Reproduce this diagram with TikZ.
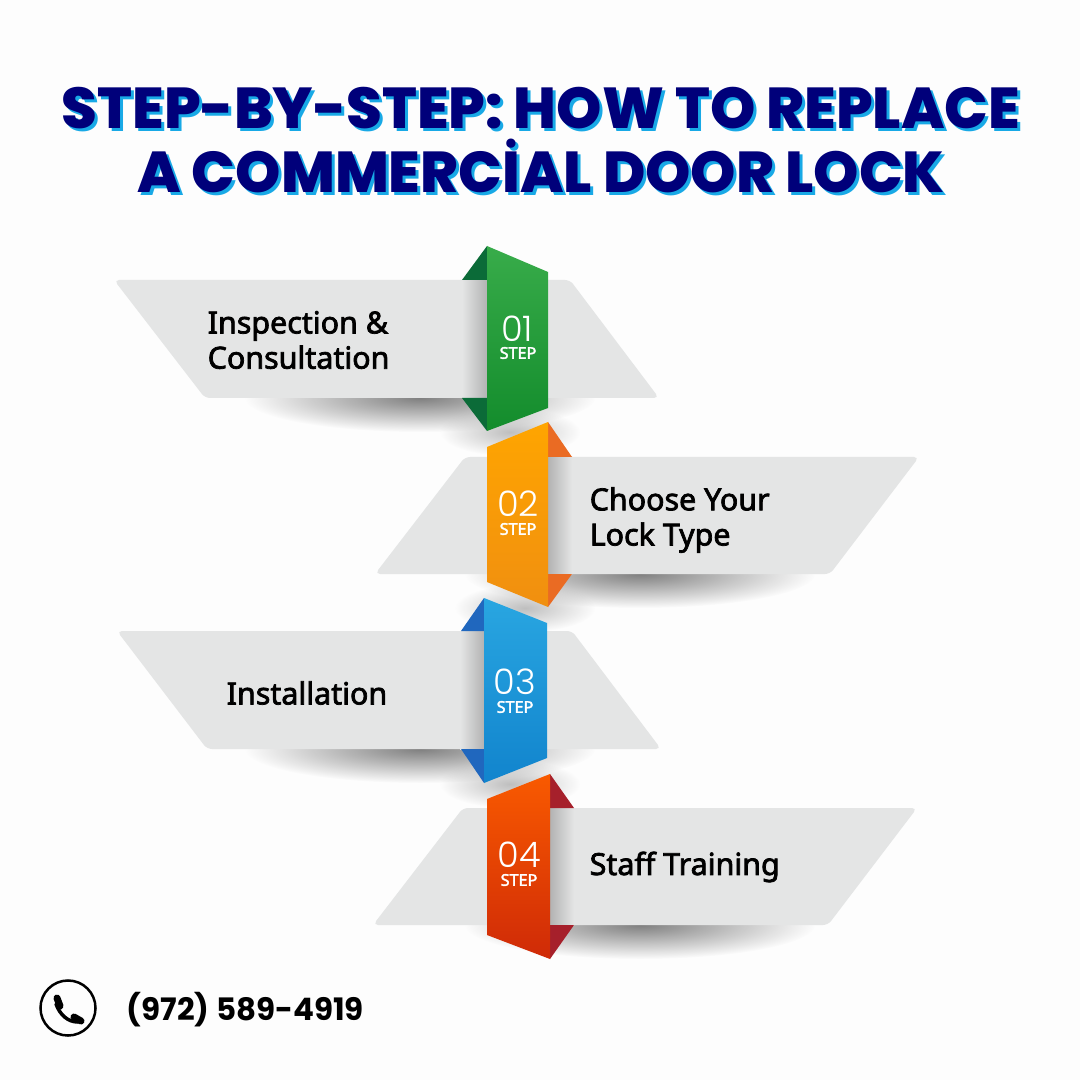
\documentclass[tikz,border=0pt]{standalone}
\usepackage{xcolor}
\usepackage{fontspec}
\usepackage{tikz}
\usetikzlibrary{fadings}
\setmainfont{Noto Sans}
\newfontfamily\titlefont[UprightFont=* ExtraBold]{Poppins}
\newfontfamily\phonefont[UprightFont=* Bold]{Poppins}
\newfontfamily\numfont[UprightFont=* Light]{Poppins}
\newfontfamily\labelfont[FakeBold=2.4]{Noto Sans}
\definecolor{paper}{HTML}{FDFDFD}
\definecolor{navy}{HTML}{00007A}
\definecolor{sky}{HTML}{18A9E6}
\definecolor{band}{HTML}{E4E5E5}
\definecolor{greenflap}{HTML}{0B6B38}
\definecolor{greentop}{HTML}{38AC4A}
\definecolor{greenlow}{HTML}{138C2C}
\definecolor{orangeflap}{HTML}{EA6B23}
\definecolor{orangetop}{HTML}{FFA500}
\definecolor{orangelow}{HTML}{F08F10}
\definecolor{blueflap}{HTML}{2067BE}
\definecolor{bluetop}{HTML}{29A6E1}
\definecolor{bluelow}{HTML}{1184CD}
\definecolor{redflap}{HTML}{A6202B}
\definecolor{redtop}{HTML}{F95A00}
\definecolor{redlow}{HTML}{CF2A07}
\tikzfading[name=softfade,inner color=transparent!0,outer color=transparent!100]

\begin{document}
\begin{tikzpicture}[x=0.01cm,y=-0.01cm,
    banner/.style={fill=band,rounded corners=0.05cm},
    softshadow/.style={fill=black!50,path fading=softfade},
    dropshadow/.style={fill=black!25,path fading=softfade},
    head/.style={font=\titlefont\fontsize{16.4}{20}\selectfont,text=navy,inner sep=0,anchor=base},
    headback/.style={font=\titlefont\fontsize{16.4}{20}\selectfont,text=sky,inner sep=0,anchor=base},
    label/.style={font=\labelfont\fontsize{8.65}{10}\selectfont,align=left,anchor=west,inner sep=0,text=black},
    num/.style={font=\numfont\fontsize{10}{10}\selectfont,text=white,inner sep=0},
    steptxt/.style={font=\labelfont\fontsize{4.6}{5}\selectfont,text=white,inner sep=0}]
  \useasboundingbox (0,0) rectangle (1080,1080);
  \fill[paper] (0,0) rectangle (1080,1080);

  % title
  \node[headback] (titleaback) at (544,132) {STEP-BY-STEP: HOW TO REPLACE};
  \node[head] (titlea) at (541,129) {STEP-BY-STEP: HOW TO REPLACE};
  \node[headback] (titlebback) at (544,196) {A COMMERCİAL DOOR LOCK};
  \node[head] (titleb) at (541,193) {A COMMERCİAL DOOR LOCK};

  % shadows below the bands
  \fill[softshadow] (420,398) ellipse (175 and 34);
  \fill[softshadow] (640,574) ellipse (175 and 34);
  \fill[softshadow] (420,749) ellipse (175 and 34);
  \fill[softshadow] (640,925) ellipse (175 and 34);
  \fill[dropshadow] (510,432) ellipse (70 and 24);
  \fill[dropshadow] (510,784) ellipse (70 and 24);
  \fill[dropshadow] (525,608) ellipse (70 and 24);

  % bands
  \path[banner] (114,280) -- (570,280) -- (659,398) -- (205,398) -- cycle;
  \path[banner] (465,457) -- (919,457) -- (830,574) -- (375,574) -- cycle;
  \path[banner] (117,631) -- (572,631) -- (661,749) -- (207,749) -- cycle;
  \path[banner] (463,808) -- (917,808) -- (828,925) -- (373,925) -- cycle;
  \shade[left color=band,right color=black!30] (462,280) rectangle (487,398);
  \shade[right color=band,left color=black!30] (548,457) rectangle (572,574);
  \shade[left color=band,right color=black!30] (460,631) rectangle (484,749);
  \shade[right color=band,left color=black!30] (550,808) rectangle (574,925);

  % step 1
  \fill[greenflap] (462,280) -- (487,246) -- (487,280) -- cycle;
  \fill[greenflap] (462,398) -- (487,398) -- (487,431) -- cycle;
  \shade[top color=greentop,bottom color=greenlow] (487,246) -- (548,272) -- (548,408) -- (487,431) -- cycle;
  \node[num] (numa) at (517,329) {01};
  \node[steptxt] (stepa) at (518,353) {STEP};

  % step 2
  \fill[orangeflap] (548,422) -- (572,457) -- (548,457) -- cycle;
  \fill[orangeflap] (548,574) -- (572,574) -- (548,607) -- cycle;
  \shade[top color=orangetop,bottom color=orangelow] (487,447) -- (548,422) -- (548,607) -- (487,582) -- cycle;
  \node[num] (numb) at (518,504) {02};
  \node[steptxt] (stepb) at (518,529) {STEP};

  % step 3
  \fill[blueflap] (461,631) -- (484,598) -- (484,631) -- cycle;
  \fill[blueflap] (461,749) -- (484,749) -- (484,783) -- cycle;
  \shade[top color=bluetop,bottom color=bluelow] (484,598) -- (547,623) -- (547,758) -- (484,783) -- cycle;
  \node[num] (numc) at (515,682) {03};
  \node[steptxt] (stepc) at (515,707) {STEP};

  % step 4
  \fill[redflap] (550,774) -- (574,808) -- (550,808) -- cycle;
  \fill[redflap] (550,925) -- (574,925) -- (550,959) -- cycle;
  \shade[top color=redtop,bottom color=redlow] (487,799) -- (550,774) -- (550,959) -- (487,935) -- cycle;
  \node[num] (numd) at (519,855) {04};
  \node[steptxt] (stepd) at (519,880) {STEP};

  % labels
  \node[label] (inspect) at (207,340) {Inspection \&\\Consultation};
  \node[label] (choose) at (589,520) {Choose Your\\Lock Type};
  \node[label] (install) at (226,693) {Installation};
  \node[label] (staff) at (589,867) {Staff Training};

  % phone
  \node[draw=black,line width=0.025cm,circle,minimum size=0.55cm,inner sep=0] (phoneicon) at (68,1008) {};
  \draw[line width=0.035cm,line cap=round] (56,1004) .. controls (60,1015) and (68,1022) .. (78,1022);
  \draw[line width=0.07cm,line cap=round] (57,998) -- (60,1006);
  \draw[line width=0.07cm,line cap=round] (74,1017) -- (81,1021);
  \node[font=\phonefont\fontsize{8.8}{10}\selectfont,anchor=west,inner sep=0] (phone) at (126,1010) {(972) 589-4919};
\end{tikzpicture}
\end{document}
